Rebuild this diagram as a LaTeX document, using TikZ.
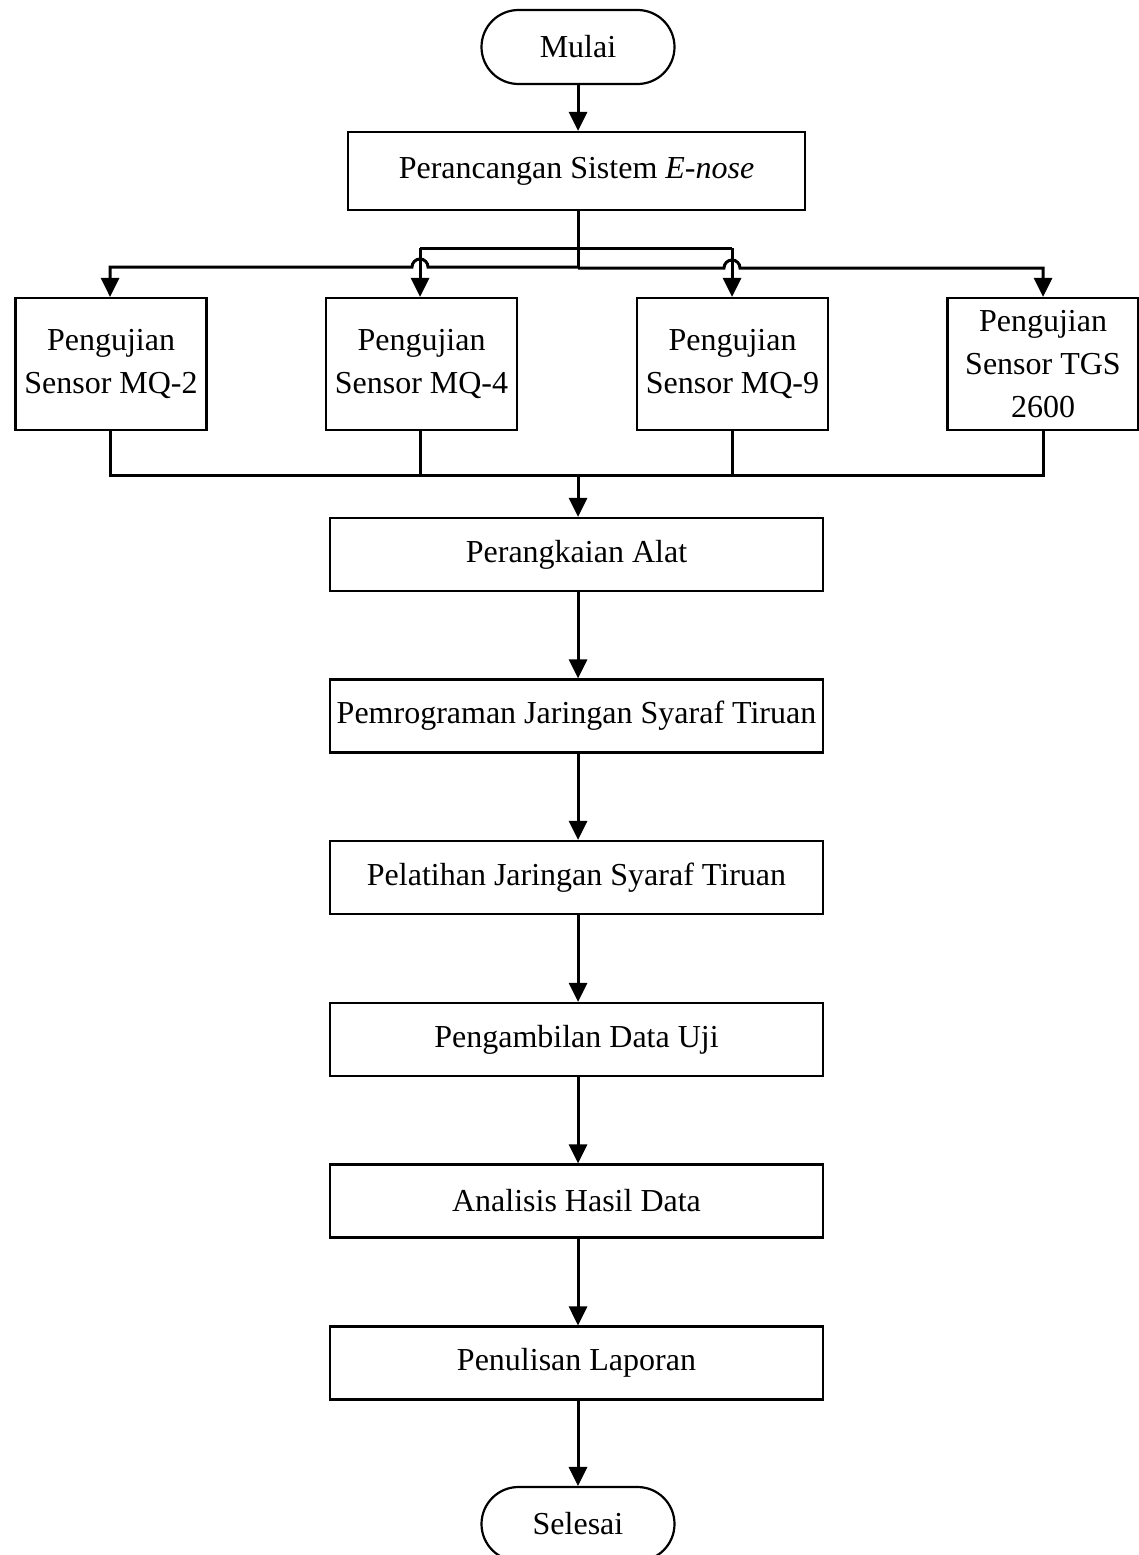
\documentclass[tikz,border=0pt]{standalone}
\usepackage{fontspec}
\setmainfont{Liberation Serif}
\usetikzlibrary{arrows.meta}
\begin{document}
\begin{tikzpicture}[x=1pt,y=1pt,
  every node/.style={font=\fontsize{32}{43}\selectfont},
  proc/.style={draw,line width=2.2pt,minimum width=493pt,minimum height=73pt,inner sep=0pt,align=center},
  sensor/.style={draw,line width=2.2pt,minimum width=191pt,minimum height=132pt,inner sep=0pt,align=center},
  term/.style={draw,line width=2.2pt,minimum width=193pt,minimum height=74pt,rounded corners=37pt,inner sep=0pt},
  link/.style={line width=3pt},
  flow/.style={line width=3pt,-{Triangle[length=19pt,width=18pt]}}]
\useasboundingbox (0,0) rectangle (1138,-1555);

% start / end and the main chain
\node[term] (mulai) at (578,-47) {Mulai};
\node[draw,line width=2.2pt,minimum width=457pt,minimum height=78pt,inner sep=0pt] (rancang) at (576.5,-171) {Perancangan Sistem \textit{E-nose}};

\node[sensor] (mq2) at (111,-364) {Pengujian\\Sensor MQ-2};
\node[sensor] (mq4) at (421.5,-364) {Pengujian\\Sensor MQ-4};
\node[sensor] (mq9) at (732.5,-364) {Pengujian\\Sensor MQ-9};
\node[sensor] (tgs) at (1043,-364) {Pengujian\\Sensor TGS\\2600};

\node[proc] (rangkai) at (576.5,-554.5) {Perangkaian Alat};
\node[proc] (program) at (576.5,-716) {Pemrograman Jaringan Syaraf Tiruan};
\node[proc] (latih) at (576.5,-877.5) {Pelatihan Jaringan Syaraf Tiruan};
\node[proc] (ambil) at (576.5,-1039.5) {Pengambilan Data Uji};
\node[proc] (analisis) at (576.5,-1201) {Analisis Hasil Data};
\node[proc] (tulis) at (576.5,-1363) {Penulisan Laporan};
\node[term] (selesai) at (578,-1524) {Selesai};

% branching from the design step to the four sensor tests
\coordinate (trunk) at (578,-267);
\coordinate (upL) at (420,-248);
\coordinate (upR) at (732,-248);
\draw[link] (rancang.south -| trunk) -- (trunk);
\draw[link] (upL) -- (upR);
\draw[flow] (upL) -- (mq4.north -| upL);
\draw[flow] (upR) -- (mq9.north -| upR);
\draw[flow] (trunk) -- (428,-267) arc[start angle=0,end angle=180,radius=8] -- (110,-267) -- (mq2.north -| 110,0);
\draw[flow] (578,-268) -- (724,-268) arc[start angle=180,end angle=0,radius=8] -- (1043,-268) -- (tgs.north -| 1043,0);

% merging the sensor tests into assembly
\coordinate (merge) at (578,-475);
\draw[link] (mq2.south -| 110,0) -- (110,-475) -- (1043,-475) -- (tgs.south -| 1043,0);
\draw[link] (mq4.south -| 420,0) -- (420,-475);
\draw[link] (mq9.south -| 732,0) -- (732,-475);
\draw[flow] (merge) -- (rangkai.north -| merge);

% vertical flow
\draw[flow] (mulai) -- (rancang.north -| mulai);
\draw[flow] (rangkai.south -| merge) -- (program.north -| merge);
\draw[flow] (program.south -| merge) -- (latih.north -| merge);
\draw[flow] (latih.south -| merge) -- (ambil.north -| merge);
\draw[flow] (ambil.south -| merge) -- (analisis.north -| merge);
\draw[flow] (analisis.south -| merge) -- (tulis.north -| merge);
\draw[flow] (tulis.south -| merge) -- (selesai.north -| merge);
\end{tikzpicture}
\end{document}
